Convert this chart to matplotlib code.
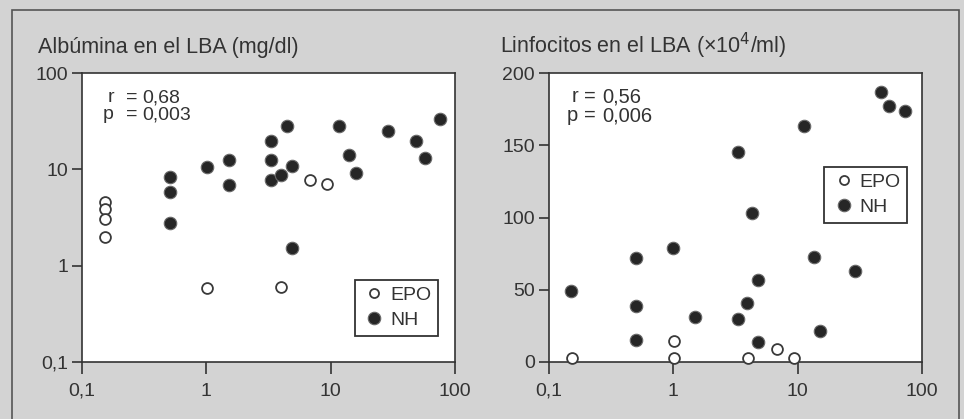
import matplotlib
matplotlib.use("Agg")
import matplotlib.pyplot as plt
from matplotlib.patches import Rectangle

plt.rcParams['font.family'] = ['Liberation Sans', 'DejaVu Sans']

# ---- Data ----
# Left panel: Albúmina en el LBA (mg/dl) vs x
alb_epo_x = [0.152, 0.152, 0.152, 0.152, 1.01, 4.0, 6.8, 9.3]
alb_epo_y = [4.57, 3.87, 3.05, 1.98, 0.59, 0.60, 7.76, 7.05]
alb_nh_x = [0.507, 0.507, 0.507, 1.01, 1.51, 1.51, 3.30, 3.30, 3.30, 3.97,
            4.43, 4.9, 4.9, 11.6, 14.0, 15.9, 29.1, 48.7, 57.4, 75.9]
alb_nh_y = [8.4, 5.8, 2.75, 10.7, 12.5, 6.8, 19.5, 12.5, 7.8, 8.75,
            27.9, 10.9, 1.51, 27.9, 14.1, 9.25, 25.1, 19.9, 13.2, 33.5]

# Right panel: Linfocitos en el LBA (x10^4/ml) vs x
lin_epo_x = [0.152, 1.01, 1.01, 3.97, 6.84, 9.3]
lin_epo_y = [3, 3, 14.3, 3, 8.8, 3]
lin_nh_x = [0.15, 0.497, 0.497, 0.497, 0.99, 1.49, 3.33, 3.33, 3.88, 4.3,
            4.81, 4.81, 11.2, 13.6, 15.1, 28.8, 47.1, 54.7, 73.5]
lin_nh_y = [49, 71.7, 38.6, 15, 78.6, 31.2, 145.2, 29.6, 40.9, 102.9,
            56.6, 13.9, 163, 72.4, 21.5, 63.1, 186.6, 176.9, 173.4]

x_ticks = [0.1, 1, 10, 100]
x_tick_labels = ['0,1', '1', '10', '100']
alb_y_ticks = [0.1, 1, 10, 100]
alb_y_tick_labels = ['0,1', '1', '10', '100']
lin_y_ticks = [0, 50, 100, 150, 200]
lin_y_tick_labels = ['0', '50', '100', '150', '200']

titles = ['Albúmina en el LBA (mg/dl)', 'Linfocitos en el LBA (×10$^{4}$/ml)']
stat_names = ['r', 'p']
alb_stat_values = ['0,68', '0,003']
lin_stat_values = ['0,56', '0,006']
series_names = ['EPO', 'NH']

# ---- Style ----
W, H = 964, 419
BG = '#d3d3d3'
INK = '#333333'
DOT = '#262626'

fig = plt.figure(figsize=(W / 100, H / 100), dpi=100, facecolor=BG)

# outer frame
fig.patches.append(Rectangle((12 / W, -0.05), (959 - 12) / W, 1.05 - 10 / H,
                             transform=fig.transFigure, fill=False,
                             edgecolor='#555555', linewidth=1.2))

ax_h = (362 - 73) / H
ax_y0 = 1 - 362 / H
axL = fig.add_axes([82 / W, ax_y0, (455 - 82) / W, ax_h])
axR = fig.add_axes([549 / W, ax_y0, (922 - 549) / W, ax_h])

fs = 14

def style(ax):
    ax.set_facecolor('white')
    for s in ax.spines.values():
        s.set_color(INK)
        s.set_linewidth(1.2)
    ax.tick_params(axis='y', which='major', direction='out', length=7,
                   width=1.2, color=INK, labelcolor=INK, labelsize=fs, pad=3)
    ax.tick_params(axis='x', which='major', direction='out', length=8.5,
                   width=1.2, color=INK, labelcolor=INK, labelsize=fs, pad=6.5)
    ax.tick_params(axis='both', which='minor', length=0)
    ax.set_xscale('log')
    ax.set_xlim(0.1, 100)
    ax.set_xticks(x_ticks)
    ax.set_xticklabels(x_tick_labels)
    ax.xaxis.set_minor_locator(matplotlib.ticker.NullLocator())

style(axL)
style(axR)

axL.set_yscale('log')
axL.set_ylim(0.1, 100)
axL.set_yticks(alb_y_ticks)
axL.set_yticklabels(alb_y_tick_labels)
axL.yaxis.set_minor_locator(matplotlib.ticker.NullLocator())

axR.set_ylim(0, 200)
axR.set_yticks(lin_y_ticks)
axR.set_yticklabels(lin_y_tick_labels)

ms_fill = 9.0
ms_open = 7.8

def draw(ax, ex, ey, nx, ny):
    ax.plot(nx, ny, 'o', ms=ms_fill, mfc=DOT, mec='#6a6a6a', mew=0.8,
            linestyle='none', label=series_names[1], clip_on=False, zorder=3)
    ax.plot(ex, ey, 'o', ms=ms_open, mfc='white', mec='#3a3a3a', mew=1.3,
            linestyle='none', label=series_names[0], clip_on=False, zorder=4)

draw(axL, alb_epo_x, alb_epo_y, alb_nh_x, alb_nh_y)
draw(axR, lin_epo_x, lin_epo_y, lin_nh_x, lin_nh_y)

def legend(ax, anchor):
    h, l = ax.get_legend_handles_labels()
    leg = ax.legend(h[::-1], l[::-1], loc='lower right', bbox_to_anchor=anchor,
                    frameon=True, fancybox=False, framealpha=1, fontsize=14,
                    handlelength=1.3, handletextpad=0.15, borderpad=0.35,
                    labelspacing=0.38, borderaxespad=0,
                    labelcolor=INK)
    leg.get_frame().set_edgecolor(INK)
    leg.get_frame().set_linewidth(1.3)
    leg.legend_handles[0].set_markersize(6.5)
    leg.legend_handles[1].set_markersize(9.0)

legend(axL, (0.954, 0.09))
legend(axR, (0.960, 0.481))

def stats(ax, values, x0px, name_px, eq_px, val_px, baselines_px, size):
    for name, val, bpx in zip(stat_names, values, baselines_px):
        yfrac = (362 - bpx) / (362 - 73)
        ax.text((name_px - x0px) / 373, yfrac, name, transform=ax.transAxes,
                ha='right', va='baseline', fontsize=size, color=INK)
        ax.text((eq_px - x0px) / 373, yfrac, '=', transform=ax.transAxes,
                ha='left', va='baseline', fontsize=size, color=INK)
        ax.text((val_px - x0px) / 373, yfrac, val, transform=ax.transAxes,
                ha='left', va='baseline', fontsize=size, color=INK)

stats(axL, alb_stat_values, 82, 114, 126, 142, [102, 119], 14)
stats(axR, lin_stat_values, 549, 578, 584, 602, [102, 121], 14.5)

fig.text(38 / W, 1 - 53 / H, titles[0], fontsize=15.5, color=INK, ha='left', va='baseline')
fig.text(500 / W, 1 - 53 / H, titles[1], fontsize=15.5, color=INK, ha='left', va='baseline')

fig.savefig('out.png', dpi=100, facecolor=BG)
